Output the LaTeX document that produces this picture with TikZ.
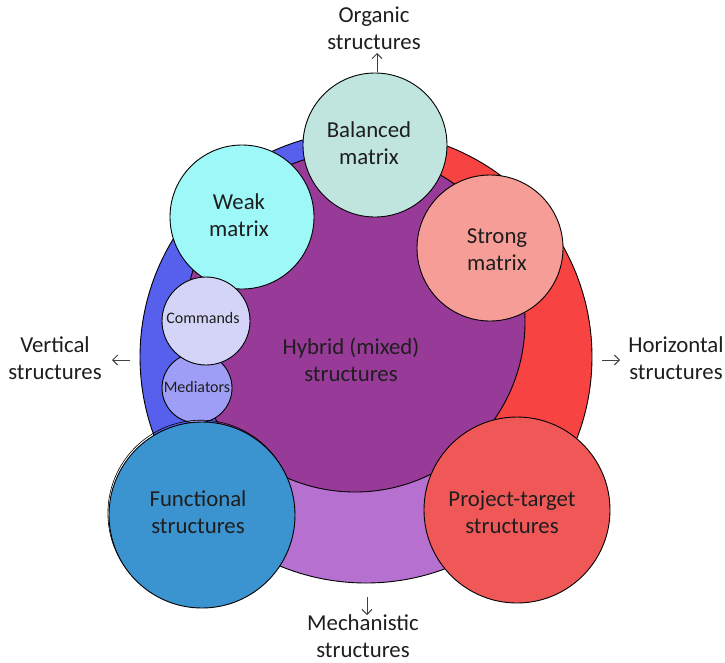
\documentclass[tikz,border=0pt]{standalone}
\usepackage{fontspec}
\setmainfont{Carlito}
\usetikzlibrary{arrows.meta}

\definecolor{leftcol}{HTML}{5760EC}
\definecolor{rightcol}{HTML}{F84343}
\definecolor{midcol}{HTML}{B570D0}
\definecolor{hybcol}{HTML}{983A98}
\definecolor{balcol}{HTML}{C0E5DF}
\definecolor{weakcol}{HTML}{9EF8F8}
\definecolor{strongcol}{HTML}{F69D97}
\definecolor{cmdcol}{HTML}{D4D4F8}
\definecolor{medcol}{HTML}{9E9EF6}
\definecolor{funccol}{HTML}{3B94D0}
\definecolor{projcol}{HTML}{F05858}
\definecolor{txtcol}{HTML}{1E1E1E}
\definecolor{arrowcol}{HTML}{404040}

\begin{document}
\begin{tikzpicture}[x=1pt,y=-1pt,
  bub/.style={circle, draw=black, line width=0.9pt, inner sep=0pt, outer sep=0pt},
  lbl/.style={align=center, text=txtcol, font=\fontsize{22.8}{27}\selectfont, inner sep=0pt},
  smalllbl/.style={text=txtcol, font=\fontsize{16}{19}\selectfont, inner sep=0pt},
  pointer/.style={-{Straight Barb[length=5pt,width=10pt]}, line width=0.9pt, draw=arrowcol}]
\useasboundingbox (0,0) rectangle (725,662);

% outer ring split into three sectors
\coordinate (c) at (366,357);
\fill[midcol] (c) circle[radius=226pt];
\begin{scope}
  \clip (c) circle[radius=226pt];
  \fill[leftcol] (366,357) -- (366,100) -- (100,100) -- (100,510.6) -- cycle;
  \fill[rightcol] (366,357) -- (366,100) -- (632,100) -- (632,510.6) -- cycle;
\end{scope}
\draw[line width=0.9pt] (c) circle[radius=226pt];

% hybrid core
\node[bub, fill=hybcol, minimum size=340pt] (hybrid) at (355,322) {};
\node[lbl] (hybrid-l) at (351,360) {Hybrid (mixed)\\structures};

% matrix circles
\node[bub, fill=balcol, minimum size=144pt] (balanced) at (375,145) {};
\node[lbl] (balanced-l) at (369,143) {Balanced\\matrix};

\node[bub, fill=weakcol, minimum size=144pt] (weak) at (242,217) {};
\node[lbl] (weak-l) at (239,215.5) {Weak\\matrix};

\node[bub, fill=strongcol, minimum size=146pt] (strong) at (490,248) {};
\node[lbl] (strong-l) at (497,249.5) {Strong\\matrix};

% small circles on the left
\node[bub, fill=medcol, minimum size=70pt] (mediators) at (197,388) {};
\node[smalllbl] (mediators-l) at (197,386.5) {Mediators};

\node[bub, fill=cmdcol, minimum size=88pt] (commands) at (206,321) {};
\node[smalllbl] (commands-l) at (203,317.5) {Commands};

% lower circles (the functional one carries a faint second rim)
\draw[line width=0.6pt] (200.9,513.2) circle[radius=93pt];
\node[bub, fill=funccol, minimum size=186pt] (functional) at (202,515) {};
\node[lbl] (functional-l) at (198,512) {Functional\\structures};

\node[bub, fill=projcol, minimum size=186pt] (project) at (517,510) {};
\node[lbl] (project-l) at (512,512) {Project-target\\structures};

% outer labels
\node[lbl] (organic) at (374,28) {Organic\\structures};
\node[lbl] (vertical) at (55,358.5) {Vertical\\structures};
\node[lbl] (horizontal) at (676,358.5) {Horizontal\\structures};
\node[lbl] (mechanistic) at (363,636) {Mechanistic\\structures};

% direction arrows
\coordinate (up-a) at (377,72);   \coordinate (up-b) at (377,53);
\coordinate (lt-a) at (130,360);  \coordinate (lt-b) at (112,360);
\coordinate (rt-a) at (602,360);  \coordinate (rt-b) at (620,360);
\coordinate (dn-a) at (367,597);  \coordinate (dn-b) at (367,615);
\draw[pointer] (up-a) -- (up-b);
\draw[pointer] (lt-a) -- (lt-b);
\draw[pointer] (rt-a) -- (rt-b);
\draw[pointer] (dn-a) -- (dn-b);
\end{tikzpicture}
\end{document}
